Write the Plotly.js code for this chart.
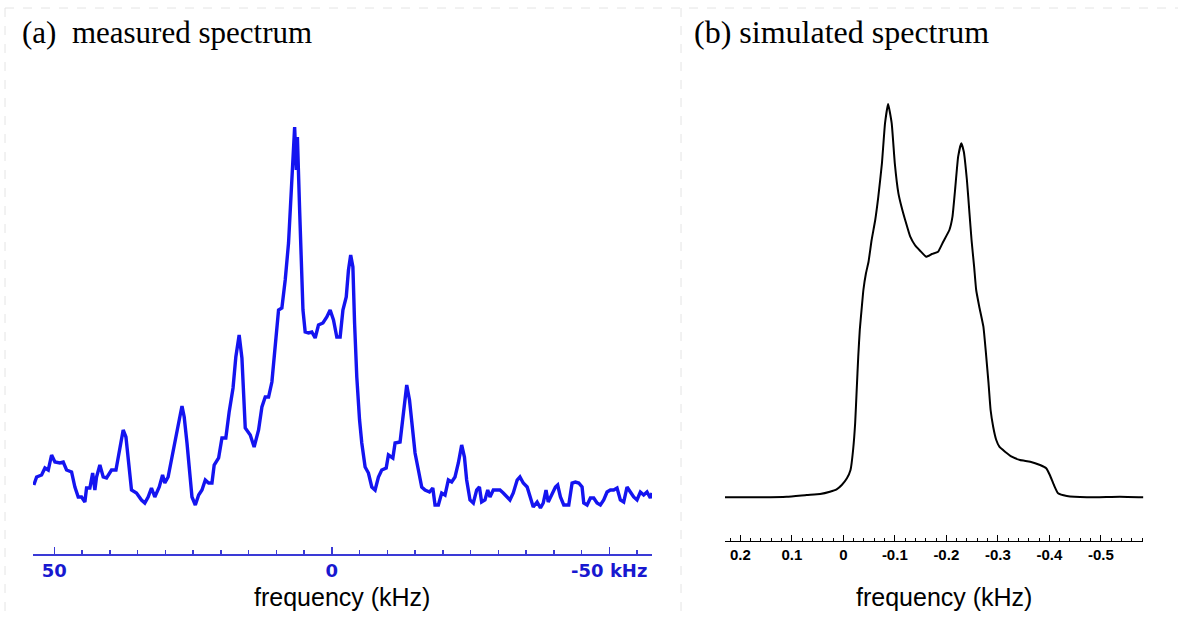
<!DOCTYPE html>
<html>
<head>
<meta charset="utf-8">
<script src="https://cdn.plot.ly/plotly-3.0.1.min.js"></script>
<style>html,body{margin:0;padding:0;background:#fff;}#chart{width:1178px;height:617px;}</style>
</head>
<body>
<div id="chart"></div>
<script>
// (a) measured spectrum: frequency (kHz) and intensity (arbitrary units)
const measuredFreq = [53.7,53.2,52.3,51.7,51.1,50.5,49.9,49.0,48.4,47.8,46.9,46.3,45.7,45.1,44.5,44.2,43.6,43.1,42.7,42.4,41.8,41.2,40.6,39.7,38.9,38.3,37.6,37.1,36.7,36.1,35.2,34.3,33.7,33.1,32.5,31.9,31.1,30.5,30.1,29.5,28.8,28.2,27.5,27.0,26.6,26.1,25.7,25.2,24.6,24.0,23.4,22.8,22.2,21.6,21.2,20.4,19.8,19.1,18.5,17.8,17.3,16.7,16.2,15.9,15.6,14.7,14.0,13.2,12.6,12.0,11.4,10.8,10.2,9.6,9.0,8.4,7.8,7.4,7.0,6.7,6.4,6.2,5.8,5.5,5.2,4.8,4.2,3.6,3.0,2.4,1.6,0.9,0.3,-0.3,-0.9,-1.5,-2.0,-2.6,-3.0,-3.4,-3.8,-4.1,-4.5,-5.0,-5.4,-6.0,-6.6,-7.2,-7.8,-8.4,-9.0,-9.8,-10.2,-11.0,-11.4,-12.3,-12.8,-13.2,-13.5,-14.0,-14.4,-15.0,-15.6,-16.2,-16.8,-17.6,-18.2,-18.6,-19.2,-19.8,-20.4,-21.0,-21.6,-22.2,-22.8,-23.4,-23.9,-24.3,-24.9,-25.5,-26.1,-26.6,-27.0,-27.6,-28.1,-28.5,-29.1,-29.7,-30.3,-30.9,-31.5,-32.1,-32.7,-33.4,-33.9,-34.5,-35.2,-35.7,-36.3,-37.0,-37.6,-38.1,-38.6,-39.0,-39.7,-40.3,-40.7,-41.2,-41.8,-42.7,-43.3,-43.9,-44.5,-45.1,-45.4,-46.0,-46.6,-47.2,-47.8,-48.4,-49.0,-49.6,-50.2,-50.8,-51.4,-52.0,-52.6,-53.2,-53.8,-54.4,-55.0,-55.6,-56.2,-56.8,-57.4,-57.7];
const measuredIntensity = [69,77,79,86,84,99,92,91,92,84,82,67,57,57,52,66,66,81,64,77,89,77,76,84,84,104,124,117,94,64,61,54,51,57,66,57,67,79,71,77,97,116,134,148,137,111,86,57,49,59,64,74,71,71,89,96,116,116,142,166,197,219,196,167,126,119,107,124,147,157,157,172,207,244,246,274,311,357,394,427,384,417,344,304,244,222,221,222,216,229,231,237,244,234,217,217,244,257,284,299,287,231,177,134,111,87,81,67,64,77,84,86,99,96,111,112,134,157,169,154,131,101,84,67,64,62,66,49,49,61,59,74,72,77,91,109,97,74,54,51,64,67,52,54,64,57,64,64,64,61,57,54,61,74,77,71,67,57,47,52,46,51,64,52,61,67,69,57,49,49,71,72,71,67,51,49,56,56,51,49,54,62,64,64,66,54,52,67,62,57,54,62,59,62,56,61];

// (b) simulated spectrum: frequency (kHz) and intensity (arbitrary units)
const simulatedFreq = [0.230,0.175,0.110,0.071,0.045,0.026,0.013,0.003,-0.007,-0.014,-0.019,-0.023,-0.026,-0.029,-0.032,-0.036,-0.039,-0.044,-0.049,-0.055,-0.062,-0.068,-0.075,-0.081,-0.087,-0.094,-0.100,-0.107,-0.113,-0.122,-0.130,-0.139,-0.149,-0.161,-0.172,-0.184,-0.194,-0.206,-0.212,-0.217,-0.223,-0.229,-0.234,-0.240,-0.245,-0.249,-0.254,-0.258,-0.264,-0.272,-0.277,-0.282,-0.286,-0.291,-0.297,-0.303,-0.314,-0.327,-0.343,-0.363,-0.382,-0.394,-0.401,-0.409,-0.417,-0.434,-0.473,-0.537,-0.583];
const simulatedIntensity = [43.7,43.7,44.3,46,47,49.3,51.7,56,62.7,71,91,117.7,151,184.3,211,234.3,251,267.7,279.3,301,321,344.3,377.7,417.7,437,417.7,377.7,347.7,334.3,317.7,304.3,296,290.3,284.3,287,289.3,299.3,311,324.3,351,384.3,397.7,389.3,361,327.7,301,274.3,251,234.3,214.3,187.7,157.7,131,114.3,101,94.3,89.3,84.3,81,79.3,76,72.7,66,56,47.7,45,43.7,44.3,43.7];

// tick labels
const leftTickVals = [50, 0, -50];
const leftTickText = ['50', '0', '-50 kHz'];
const rightTickVals = [0.2, 0.1, 0, -0.1, -0.2, -0.3, -0.4, -0.5];
const rightTickText = ['0.2', '0.1', '0', '-0.1', '-0.2', '-0.3', '-0.4', '-0.5'];

const W = 1178, H = 617;
const px = v => v / W;
const py = v => (H - v) / H;

const blueAxis = '#3a3ad6';
const traces = [
  {x: measuredFreq, y: measuredIntensity, xaxis: 'x', yaxis: 'y', mode: 'lines',
   line: {color: '#1414f0', width: 3.4}, hoverinfo: 'skip'},
  {x: simulatedFreq, y: simulatedIntensity, xaxis: 'x2', yaxis: 'y2', mode: 'lines',
   line: {color: '#000000', width: 2, shape: 'spline', smoothing: 0.4}, hoverinfo: 'skip'}
];

const layout = {
  width: W, height: H,
  margin: {l: 0, r: 0, t: 0, b: 0, pad: 0},
  paper_bgcolor: '#ffffff', plot_bgcolor: '#ffffff',
  showlegend: false,
  xaxis: {
    domain: [px(33), px(652)], range: [53.85, -57.7], anchor: 'y',
    showgrid: false, zeroline: false, showline: true, linecolor: blueAxis, linewidth: 1.5,
    tickmode: 'array', tickvals: leftTickVals, ticktext: leftTickText,
    ticks: 'inside', ticklen: 7, tickwidth: 1.5, tickcolor: blueAxis,
    tickfont: {family: 'DejaVu Sans, Verdana, sans-serif', size: 18, color: '#1818d0', weight: 'bold'},
    minor: {tickmode: 'linear', tick0: 0, dtick: 5, ticks: 'inside', ticklen: 4, tickwidth: 1.5, tickcolor: blueAxis},
    fixedrange: true
  },
  yaxis: {domain: [py(554), py(80)], range: [0, 474], visible: false, fixedrange: true},
  xaxis2: {
    domain: [px(725), px(1143.3)], range: [0.2297, -0.5825], anchor: 'y2',
    showgrid: false, zeroline: false, showline: true, linecolor: '#000000', linewidth: 1,
    tickmode: 'array', tickvals: rightTickVals, ticktext: rightTickText,
    ticks: 'inside', ticklen: 6, tickwidth: 1, tickcolor: '#000000',
    tickfont: {family: 'Liberation Sans Narrow, Arial Narrow, sans-serif', size: 15, color: '#000000', weight: 'bold'},
    minor: {tickmode: 'linear', tick0: 0, dtick: 0.02, ticks: 'inside', ticklen: 3, tickwidth: 1, tickcolor: '#000000'},
    fixedrange: true
  },
  yaxis2: {domain: [py(541), py(80)], range: [0, 461], visible: false, fixedrange: true},
  annotations: [
    {xref: 'paper', yref: 'paper', x: px(20), y: py(32), xanchor: 'left', yanchor: 'middle',
     text: '(a)\u00a0 measured spectrum', showarrow: false,
     font: {family: 'Liberation Serif, Times New Roman, serif', size: 31, color: '#000000'}},
    {xref: 'paper', yref: 'paper', x: px(692), y: py(32), xanchor: 'left', yanchor: 'middle',
     text: '(b) simulated spectrum', showarrow: false,
     font: {family: 'Liberation Serif, Times New Roman, serif', size: 32, color: '#000000'}},
    {xref: 'paper', yref: 'paper', x: px(342), y: py(597), xanchor: 'center', yanchor: 'middle',
     text: 'frequency (kHz)', showarrow: false,
     font: {family: 'Liberation Sans, Arial, sans-serif', size: 25, color: '#000000'}},
    {xref: 'paper', yref: 'paper', x: px(944), y: py(597), xanchor: 'center', yanchor: 'middle',
     text: 'frequency (kHz)', showarrow: false,
     font: {family: 'Liberation Sans, Arial, sans-serif', size: 25, color: '#000000'}}
  ],
  shapes: [
    {type: 'line', xref: 'paper', yref: 'paper', x0: px(5), x1: 1, y0: py(8), y1: py(8),
     line: {color: '#e4e4e4', width: 1, dash: 'dash'}},
    {type: 'line', xref: 'paper', yref: 'paper', x0: px(5), x1: px(5), y0: py(8), y1: 0,
     line: {color: '#e4e4e4', width: 1, dash: 'dash'}},
    {type: 'line', xref: 'paper', yref: 'paper', x0: px(681), x1: px(681), y0: py(8), y1: 0,
     line: {color: '#e4e4e4', width: 1, dash: 'dash'}}
  ]
};

Plotly.newPlot('chart', traces, layout, {staticPlot: true, displayModeBar: false});
</script>
</body>
</html>
